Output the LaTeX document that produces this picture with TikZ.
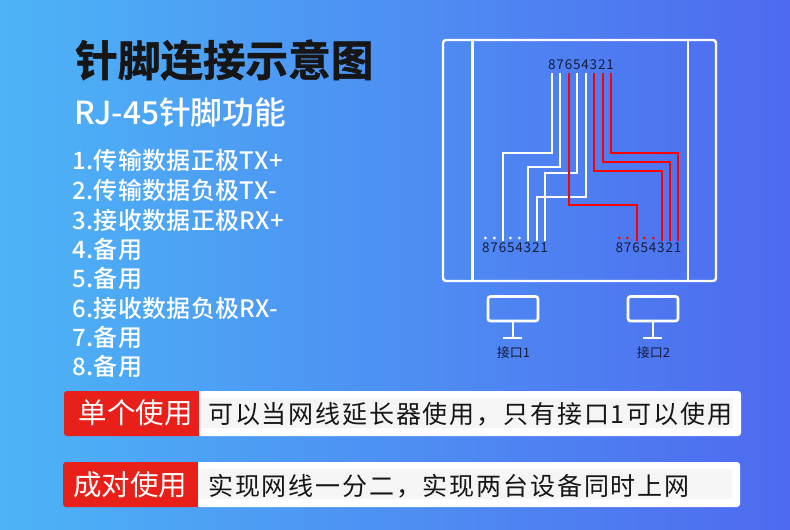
\documentclass[tikz,border=0pt]{standalone}
\usepackage{fontspec}
\newfontfamily\cjk{Noto Sans CJK SC}
\newfontfamily\cjkm{Noto Sans CJK SC Medium}
\newfontfamily\cjkit[LetterSpace=1.5]{Noto Sans CJK SC Medium}
\newfontfamily\cjkb[FakeBold=1.2]{Noto Sans CJK SC Bold}
\newfontfamily\cjkls[LetterSpace=7.4]{Noto Sans CJK SC}
\newfontfamily\cjkpin[LetterSpace=6]{Noto Sans CJK SC}
\definecolor{bgl}{HTML}{4DB4F6}
\definecolor{bgr}{HTML}{4E6AEF}
\definecolor{ink}{HTML}{141E3C}
\definecolor{barred}{HTML}{E91F1A}
\definecolor{wirered}{HTML}{FF0000}
\definecolor{band}{HTML}{F5F5F5}
\definecolor{blk}{HTML}{161616}
\tikzset{x=1pt,y=-1pt,
 frame/.style={draw=white,line width=2.4pt},
 wirew/.style={draw=white,line width=2pt},
 wirer/.style={draw=wirered,line width=2pt},
 pins/.style={text=ink,font=\cjkpin\fontsize{13.5}{14}\selectfont,inner sep=0pt},
 itemtxt/.style={anchor=west,text=white,font=\cjkit\fontsize{24}{26}\selectfont,inner sep=0pt},
 redtxt/.style={text=white,font=\cjk\fontsize{28.5}{30}\selectfont,inner sep=0pt},
 blacktxt/.style={anchor=west,text=blk,font=\cjkls\fontsize{25}{27}\selectfont,inner sep=0pt},
 port/.style={text=ink,font=\cjk\fontsize{13}{14}\selectfont,inner sep=0pt},
}
\begin{document}
\begin{tikzpicture}
\useasboundingbox (0,0) rectangle (790,530);
\shade[left color=bgl,right color=bgr] (0,0) rectangle (790,530);
\node[anchor=west,text=blk,inner sep=0pt,font=\cjkb\fontsize{42.6}{45}\selectfont] (title) at (75,60) {针脚连接示意图};
\node[anchor=west,text=white,inner sep=0pt,font=\cjkm\fontsize{31.7}{34}\selectfont] (sub) at (74,112) {RJ-45针脚功能};
\node[itemtxt] (i1) at (72,160) {1.传输数据正极TX+};
\node[itemtxt] (i2) at (72,190) {2.传输数据负极TX-};
\node[itemtxt] (i3) at (72,220) {3.接收数据正极RX+};
\node[itemtxt] (i4) at (72,249) {4.备用};
\node[itemtxt] (i5) at (72,278) {5.备用};
\node[itemtxt] (i6) at (72,308) {6.接收数据负极RX-};
\node[itemtxt] (i7) at (72,337) {7.备用};
\node[itemtxt] (i8) at (72,366) {8.备用};
% device
\draw[frame,rounded corners=3pt] (443,40) rectangle (716,281);
\draw[frame] (472.3,40) -- (472.3,281);
\draw[frame] (687.7,40) -- (687.7,281);
\node[pins] (top) at (581,65) {87654321};
\node[pins] (bl) at (515,248) {87654321};
\node[pins] (br) at (648.5,248) {87654321};
\draw[wirew] (552,73) |- (503,152.7) -- (503,241);
\draw[wirew] (560,73) |- (528,167) -- (528,241);
\draw[wirew] (577,73) |- (545,172.7) -- (545,241);
\draw[wirew] (585.7,73) |- (536.7,197) -- (536.7,241);
\draw[wirer] (568.7,73) |- (637,205) -- (637,241);
\draw[wirer] (594,73) |- (662,171) -- (662,241);
\draw[wirer] (602.7,73) |- (670,161.7) -- (670,241);
\draw[wirer] (611,73) |- (678,152.7) -- (678,241);
\foreach \x in {485.3,494.3,510.3,519.3} \fill[white] (\x,238) circle (1.5);
\foreach \x in {619.3,627.3,644.3,653.3} \fill[wirered] (\x,238) circle (1.5);
% ports
\foreach \n/\x/\l in {a/488/接口1,b/628/接口2}{
 \draw[frame,line width=2.7pt,rounded corners=2.5pt] (\x,296.5) rectangle ++(50,24.5);
 \draw[white,line width=2pt] (\x+24.8,321) -- (\x+24.8,337.7);
 \draw[white,line width=2pt] (\x+15,337.7) -- (\x+34,337.7);
 \node[port] (p\n) at (\x+25.5,352.5) {\l};
}
% bars
\fill[white,rounded corners=3pt] (190,391) rectangle (741,436);
\fill[barred,rounded corners=3pt] (64,391) rectangle (205,436);
\fill[barred] (190,391) rectangle (199,436);
\fill[white] (199,391) rectangle (210,436);
\fill[band] (199,398) rectangle (733,428);
\node[redtxt] (u1) at (135.5,413) {单个使用};
\node[blacktxt] (d1) at (208,414.5) {可以当网线延长器使用，只有接口1可以使用};
\fill[white,rounded corners=3pt] (190,462) rectangle (740,507);
\fill[barred,rounded corners=3pt] (63,462) rectangle (205,507);
\fill[barred] (190,462) rectangle (198,507);
\fill[white] (198,462) rectangle (210,507);
\fill[band] (198,469) rectangle (732,499);
\node[redtxt] (u2) at (130,485) {成对使用};
\node[blacktxt] (d2) at (208,486) {实现网线一分二，实现两台设备同时上网};
\end{tikzpicture}
\end{document}
